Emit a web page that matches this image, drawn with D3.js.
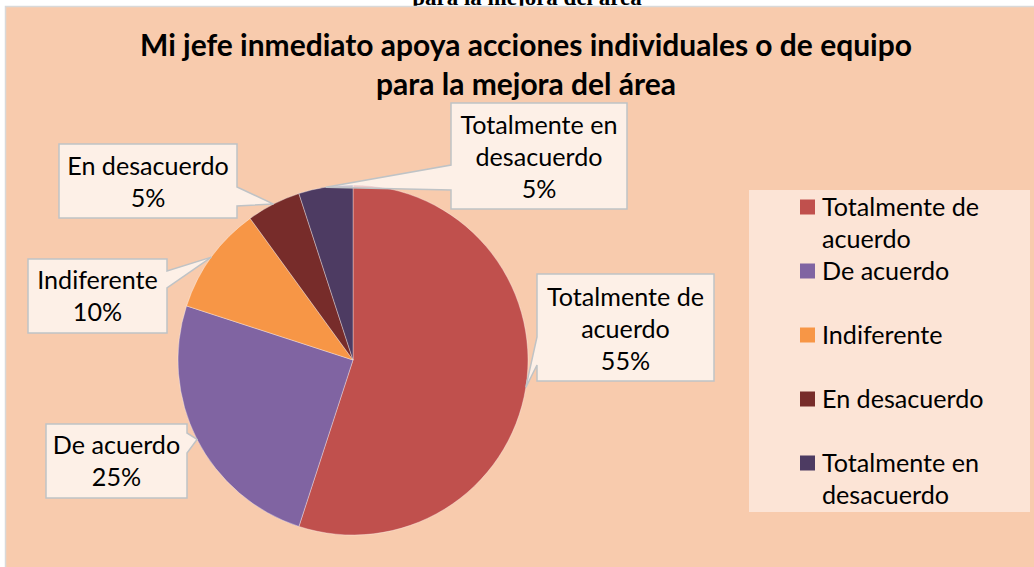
<!DOCTYPE html>
<html>
<head>
<meta charset="utf-8">
<script src="https://cdn.jsdelivr.net/npm/d3@7"></script>
<style>
  html, body { margin: 0; padding: 0; background: #ffffff; }
  svg { display: block; }
</style>
</head>
<body>
<svg id="chart" width="1034" height="567"></svg>
<script>
// Survey answers and their shares (percent)
const categories = ["Totalmente de acuerdo", "De acuerdo", "Indiferente", "En desacuerdo", "Totalmente en desacuerdo"];
const values = [55, 25, 10, 5, 5];
const sliceColors = ["#C0504D", "#8064A2", "#F79646", "#772C2A", "#4D3B62"];
// Wrapped text for data labels and legend entries
const wrappedNames = [["Totalmente de", "acuerdo"], ["De acuerdo"], ["Indiferente"], ["En desacuerdo"], ["Totalmente en", "desacuerdo"]];
const titleLines = ["Mi jefe inmediato apoya acciones individuales o de equipo", "para la mejora del área"];
const headingAbove = "para la mejora del área";

const W = 1034, H = 567;
const svg = d3.select("#chart");
const FONT = "Lato, 'Open Sans', sans-serif";

// helper: pick a font size so that a sample string reaches a given width
function fitSize(sample, targetWidth, weight) {
  const t = svg.append("text").attr("font-family", FONT).attr("font-size", 100)
    .attr("font-weight", weight).text(sample);
  const w = t.node().getComputedTextLength();
  t.remove();
  return 100 * targetWidth / w;
}
const bodySize = fitSize("Totalmente de", 157, "normal");
const titleSize = fitSize(titleLines[0], 772, "bold");

// document heading partly hidden behind the chart
svg.append("text")
  .attr("x", 527).attr("y", 5)
  .attr("text-anchor", "middle")
  .attr("font-family", "'Liberation Serif', 'DejaVu Serif', serif")
  .attr("font-weight", "bold").attr("font-size", 23)
  .attr("fill", "#000").text(headingAbove);

// chart area
svg.append("rect")
  .attr("x", 5.5).attr("y", 6.5).attr("width", W).attr("height", H)
  .attr("fill", "#F8CBAD").attr("stroke", "#D9D9D9").attr("stroke-width", 1.5);

// title
svg.append("g").selectAll("text").data(titleLines).join("text")
  .attr("x", 526).attr("y", (d, i) => 56 + i * 39)
  .attr("text-anchor", "middle")
  .attr("font-family", FONT).attr("font-weight", "bold")
  .attr("font-size", titleSize).attr("fill", "#000")
  .text(d => d);

// pie
const cx = 353, cy = 360, R = 175;
const total = d3.sum(values);
const pie = d3.pie().sort(null).value(d => d.value);
const arcs = pie(categories.map((c, i) => ({ name: c, value: values[i], i })));
const arc = d3.arc().innerRadius(0).outerRadius(R);
const edgeArc = d3.arc().innerRadius(R).outerRadius(R);

const gPie = svg.append("g").attr("transform", `translate(${cx},${cy})`);
gPie.selectAll("path").data(arcs).join("path")
  .attr("d", arc)
  .attr("fill", d => sliceColors[d.data.i])
  .attr("stroke", "rgba(255,255,255,0.35)").attr("stroke-width", 1);

// data label callouts: box and the edge where the pointer leaves it
const callouts = [
  { x: 537, y: 274, w: 177, h: 107, side: "left",  b0: 337, b1: 365, dy: 1.5 },
  { x: 46,  y: 424, w: 141, h: 74,  side: "right", b0: 433, b1: 453, dy: 0 },
  { x: 28,  y: 259, w: 139, h: 74,  side: "right", b0: 271, b1: 288, dy: 0 },
  { x: 59,  y: 144, w: 178, h: 74,  side: "right", b0: 187, b1: 206, dy: 1 },
  { x: 451, y: 103, w: 176, h: 106, side: "left",  b0: 165, b1: 190, dy: 1 }
];

const gLab = svg.append("g");
arcs.forEach((d, k) => {
  const c = callouts[k];
  const [tx, ty] = edgeArc.centroid(d);
  const px = cx + tx, py = cy + ty;
  const p = d3.path();
  if (c.side === "left") {
    p.moveTo(c.x, c.y); p.lineTo(c.x + c.w, c.y); p.lineTo(c.x + c.w, c.y + c.h);
    p.lineTo(c.x, c.y + c.h); p.lineTo(c.x, c.b1); p.lineTo(px, py); p.lineTo(c.x, c.b0);
  } else {
    p.moveTo(c.x, c.y); p.lineTo(c.x + c.w, c.y); p.lineTo(c.x + c.w, c.b0);
    p.lineTo(px, py); p.lineTo(c.x + c.w, c.b1); p.lineTo(c.x + c.w, c.y + c.h); p.lineTo(c.x, c.y + c.h);
  }
  p.closePath();
  gLab.append("path").attr("d", p.toString())
    .attr("fill", "rgba(255,255,255,0.7)")
    .attr("stroke", "#BFC3C6").attr("stroke-width", 1.5).attr("stroke-linejoin", "miter");

  const pct = Math.round(d.data.value / total * 100) + "%";
  const lines = wrappedNames[d.data.i].concat([pct]);
  const lh = 32;
  const mid = c.y + c.h / 2 + c.dy;
  lines.forEach((ln, j) => {
    gLab.append("text")
      .attr("x", c.x + c.w / 2)
      .attr("y", mid + (j - (lines.length - 1) / 2) * lh)
      .attr("dy", "0.36em")
      .attr("text-anchor", "middle")
      .attr("font-family", FONT).attr("font-size", bodySize).attr("fill", "#000")
      .text(ln);
  });
});

// legend
const gLeg = svg.append("g");
gLeg.append("rect").attr("x", 749).attr("y", 190).attr("width", 281).attr("height", 322)
  .attr("fill", "#FCE4D6");
const legY = d3.scalePoint().domain(categories).range([207, 463]);
categories.forEach((c, i) => {
  const y = legY(c);
  gLeg.append("rect").attr("x", 800).attr("y", y - 7.5).attr("width", 15).attr("height", 15)
    .attr("fill", sliceColors[i]);
  wrappedNames[i].forEach((ln, j) => {
    gLeg.append("text").attr("x", 822).attr("y", y + j * 32).attr("dy", "0.36em")
      .attr("font-family", FONT).attr("font-size", bodySize).attr("fill", "#000")
      .text(ln);
  });
});
</script>
</body>
</html>
